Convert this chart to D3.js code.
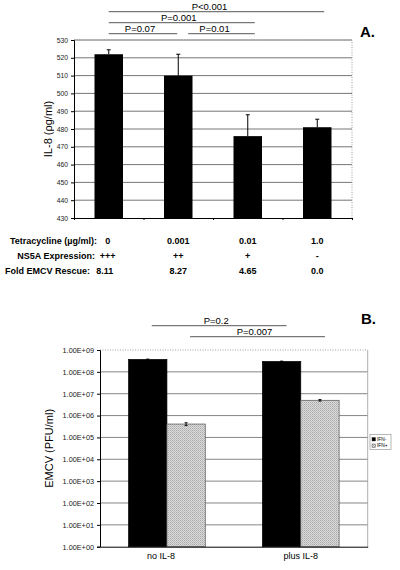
<!DOCTYPE html>
<html>
<head>
<meta charset="utf-8">
<script src="https://cdn.jsdelivr.net/npm/d3@7"></script>
<style>
  body { margin: 0; background: #fff; }
  svg { display: block; font-family: "Liberation Sans", Arial, sans-serif; }
</style>
</head>
<body>
<div class="chart"></div>
<script>
// panel A data
const doses = ['0', '0.001', '0.01', '1.0'];
const il8Values = [522, 510, 476, 481];
const il8Errors = [2.5, 12, 12, 4.5];
const ns5aLevels = ['+++', '++', '+', '-'];
const foldRescue = ['8.11', '8.27', '4.65', '0.0'];
const il8Ticks = [430, 440, 450, 460, 470, 480, 490, 500, 510, 520, 530];
const pairsA = [
  { from: 0, to: 3, label: 'P<0.001' },
  { from: 0, to: 2, label: 'P=0.001' },
  { from: 0, to: 1, label: 'P=0.07' },
  { from: 1, to: 2, label: 'P=0.01' }
];

// panel B data
const treatments = ['no IL-8', 'plus IL-8'];
const ifnGroups = ['IFN-', 'IFN+'];
const ifnMinus = [3.7e8, 3.0e8];
const ifnPlus = [4.1e5, 5.0e6];
const ifnMinusErr = [1.5e7, 1.0e7];
const ifnPlusErr = [6e4, 4e5];
const emcvTicks = [1e0, 1e1, 1e2, 1e3, 1e4, 1e5, 1e6, 1e7, 1e8, 1e9];
const pairsB = [
  { group: 'IFN-', label: 'P=0.2' },
  { group: 'IFN+', label: 'P=0.007' }
];

const w = 400;
const h = 570;
const svg = d3.select('.chart')
  .append('svg')
  .attr('width', w)
  .attr('height', h);

// ---------- panel A ----------
const a = { left: 74, right: 352, top: 40, bottom: 218 };
const xA = d3.scaleBand()
  .domain(doses)
  .range([a.left, a.right])
  .paddingInner(0.59)
  .paddingOuter(0.295);
const yA = d3.scaleLinear().domain([430, 530]).range([a.bottom, a.top]);
const cA = d => xA(d) + xA.bandwidth() / 2;

const gA = svg.append('g');

gA.append('g')
  .selectAll('line')
  .data(il8Ticks.slice(1))
  .enter()
  .append('line')
  .attr('x1', a.left)
  .attr('x2', a.right)
  .attr('y1', d => yA(d))
  .attr('y2', d => yA(d))
  .attr('stroke', '#666')
  .attr('stroke-width', 0.9);

// dotted frame top/right
gA.append('path')
  .attr('d', `M${a.left},${a.top}H${a.right}V${a.bottom}`)
  .attr('fill', 'none')
  .attr('stroke', '#888')
  .attr('stroke-width', 0.8)
  .attr('stroke-dasharray', '1,1.5');

gA.append('g')
  .selectAll('rect')
  .data(il8Values)
  .enter()
  .append('rect')
  .attr('x', (d, i) => xA(doses[i]))
  .attr('y', d => yA(d))
  .attr('width', xA.bandwidth())
  .attr('height', d => a.bottom - yA(d))
  .attr('fill', '#000');

const errA = gA.append('g').attr('stroke', '#000').attr('stroke-width', 1);
il8Values.forEach((v, i) => {
  const cx = cA(doses[i]);
  errA.append('line').attr('x1', cx).attr('x2', cx).attr('y1', yA(v)).attr('y2', yA(v + il8Errors[i]));
  errA.append('line').attr('x1', cx - 2).attr('x2', cx + 2).attr('y1', yA(v + il8Errors[i])).attr('y2', yA(v + il8Errors[i]));
});

const axisA = gA.append('g')
  .attr('transform', `translate(${a.left},0)`)
  .call(d3.axisLeft(yA).tickValues(il8Ticks).tickSize(3).tickPadding(3));
axisA.select('.domain').attr('stroke', '#000');
axisA.selectAll('text').attr('font-size', 6.8).attr('fill', '#222').attr('font-family', '"Liberation Sans", Arial, sans-serif');

const xAxisA = gA.append('g')
  .attr('transform', `translate(0,${a.bottom})`)
  .call(d3.axisBottom(d3.scaleLinear().domain([0, 4]).range([a.left, a.right])).ticks(4).tickSize(2).tickFormat(''));
xAxisA.select('.domain').attr('stroke', '#000');

gA.append('text')
  .attr('transform', `translate(52,${(a.top + a.bottom) / 2}) rotate(-90)`)
  .attr('text-anchor', 'middle')
  .attr('font-size', 11)
  .text('IL-8 (ρg/ml)');

gA.append('text')
  .attr('x', 360)
  .attr('y', 37)
  .attr('font-size', 15)
  .attr('font-weight', 'bold')
  .text('A.');

// significance brackets A
const levelsA = [11.7, 22.7, 33.7, 33.7];
pairsA.forEach((p, i) => {
  const x1 = cA(doses[p.from]) + (p.from > 0 ? 10 : 0);
  const x2 = cA(doses[p.to]) + (p.to > 1 ? 7 : -1);
  const y = levelsA[i];
  gA.append('line')
    .attr('x1', x1).attr('x2', x2)
    .attr('y1', y).attr('y2', y)
    .attr('stroke', '#444').attr('stroke-width', 0.9);
  gA.append('text')
    .attr('x', (x1 + x2) / 2 - (x2 - x1 > 150 || p.from > 0 ? 7 : 3))
    .attr('y', y - 1.6)
    .attr('text-anchor', 'middle')
    .attr('font-size', 9.5)
    .text(p.label);
});

// table under panel A
const rows = [
  { label: 'Tetracycline (µg/ml):', values: doses, y: 244, end: 97, shift: 0 },
  { label: 'NS5A Expression:', values: ns5aLevels, y: 258.5, end: 95, shift: 0 },
  { label: 'Fold EMCV Rescue:', values: foldRescue, y: 273.5, end: 90, shift: -3 }
];
const tbl = gA.append('g').attr('font-size', 9).attr('font-weight', 'bold');
rows.forEach(r => {
  tbl.append('text').attr('x', r.end).attr('y', r.y).attr('text-anchor', 'end').text(r.label);
  tbl.selectAll(null)
    .data(r.values)
    .enter()
    .append('text')
    .attr('x', (d, i) => cA(doses[i]) + (i === 0 ? r.shift - 1 : 0))
    .attr('y', r.y)
    .attr('text-anchor', 'middle')
    .text(d => d);
});

// ---------- panel B ----------
const b = { left: 100, right: 367.7, top: 350, bottom: 546.7 };
const xB = d3.scaleBand()
  .domain(treatments)
  .range([b.left, b.right])
  .paddingInner(0.427)
  .paddingOuter(0.2135);
const xSub = d3.scaleBand().domain(ifnGroups).range([0, xB.bandwidth()]);
const yB = d3.scaleLog().domain([1, 1e9]).range([b.bottom, b.top]);

const defs = svg.append('defs');
const pat = defs.append('pattern')
  .attr('id', 'dots')
  .attr('width', 2)
  .attr('height', 2)
  .attr('patternUnits', 'userSpaceOnUse');
pat.append('rect').attr('width', 2).attr('height', 2).attr('fill', '#dcdcdc');
pat.append('rect').attr('width', 1).attr('height', 1).attr('fill', '#a8a8a8');
pat.append('rect').attr('x', 1).attr('y', 1).attr('width', 1).attr('height', 1).attr('fill', '#bdbdbd');

const gB = svg.append('g');

gB.append('g')
  .selectAll('line')
  .data(emcvTicks.slice(1, -1))
  .enter()
  .append('line')
  .attr('x1', b.left)
  .attr('x2', b.right)
  .attr('y1', d => yB(d))
  .attr('y2', d => yB(d))
  .attr('stroke', '#777')
  .attr('stroke-width', 0.9);

gB.append('line')
  .attr('x1', b.left).attr('x2', b.right)
  .attr('y1', b.top).attr('y2', b.top)
  .attr('stroke', '#888').attr('stroke-width', 0.8).attr('stroke-dasharray', '1,1.5');
gB.append('line')
  .attr('x1', b.right).attr('x2', b.right)
  .attr('y1', b.top).attr('y2', b.bottom)
  .attr('stroke', '#999').attr('stroke-width', 0.8);

const barsB = [];
treatments.forEach((t, i) => {
  barsB.push({ t: t, g: 'IFN-', v: ifnMinus[i], e: ifnMinusErr[i] });
  barsB.push({ t: t, g: 'IFN+', v: ifnPlus[i], e: ifnPlusErr[i] });
});

gB.append('g')
  .selectAll('rect')
  .data(barsB)
  .enter()
  .append('rect')
  .attr('x', d => xB(d.t) + xSub(d.g))
  .attr('y', d => yB(d.v))
  .attr('width', xSub.bandwidth())
  .attr('height', d => b.bottom - yB(d.v))
  .attr('fill', d => d.g === 'IFN-' ? '#000' : 'url(#dots)')
  .attr('stroke', d => d.g === 'IFN-' ? '#000' : '#555')
  .attr('stroke-width', 0.7);

const errB = gB.append('g').attr('stroke', '#000').attr('stroke-width', 0.9);
barsB.forEach(d => {
  const cx = xB(d.t) + xSub(d.g) + xSub.bandwidth() / 2;
  const y1 = yB(d.v - d.e);
  const y2 = yB(d.v + d.e);
  errB.append('line').attr('x1', cx).attr('x2', cx).attr('y1', y1).attr('y2', y2);
  errB.append('line').attr('x1', cx - 1.5).attr('x2', cx + 1.5).attr('y1', y2).attr('y2', y2);
  errB.append('line').attr('x1', cx - 1.5).attr('x2', cx + 1.5).attr('y1', y1).attr('y2', y1);
});

const fmtE = d => {
  const e = Math.round(Math.log10(d));
  return '1.00E+' + String(e).padStart(2, '0');
};
const axisB = gB.append('g')
  .attr('transform', `translate(${b.left},0)`)
  .call(d3.axisLeft(yB).tickValues(emcvTicks).tickFormat(fmtE).tickSize(3).tickPadding(3));
axisB.select('.domain').attr('stroke', '#000');
axisB.selectAll('text').attr('font-size', 7.3).attr('fill', '#222').attr('font-family', '"Liberation Sans", Arial, sans-serif');

const xAxisB = gB.append('g')
  .attr('transform', `translate(0,${b.bottom})`)
  .call(d3.axisBottom(xB).tickSize(0).tickPadding(6));
xAxisB.select('.domain').attr('stroke', '#000');
xAxisB.selectAll('text')
  .attr('font-size', 9)
  .attr('fill', '#000')
  .attr('dx', (d, i) => i === 0 ? -6 : 0)
  .attr('font-family', '"Liberation Sans", Arial, sans-serif');

gB.append('text')
  .attr('transform', `translate(53,${(b.top + b.bottom) / 2}) rotate(-90)`)
  .attr('text-anchor', 'middle')
  .attr('font-size', 11)
  .text('EMCV (PFU/ml)');

gB.append('text')
  .attr('x', 361)
  .attr('y', 324)
  .attr('font-size', 15)
  .attr('font-weight', 'bold')
  .text('B.');

// significance brackets B
const levelsB = [325.7, 336.7];
pairsB.forEach((p, i) => {
  const x1 = xB(treatments[0]) + xSub(p.group) + xSub.bandwidth() / 2 + 4;
  const x2 = xB(treatments[1]) + xSub(p.group) + xSub.bandwidth() / 2 + 5;
  const y = levelsB[i];
  gB.append('line')
    .attr('x1', x1).attr('x2', x2)
    .attr('y1', y).attr('y2', y)
    .attr('stroke', '#444').attr('stroke-width', 0.9);
  gB.append('text')
    .attr('x', (x1 + x2) / 2 - 3)
    .attr('y', y - 1.8)
    .attr('text-anchor', 'middle')
    .attr('font-size', 9.5)
    .text(p.label);
});

// legend
const leg = gB.append('g');
leg.append('rect')
  .attr('x', 370).attr('y', 434.5)
  .attr('width', 21).attr('height', 15)
  .attr('fill', '#fff').attr('stroke', '#888').attr('stroke-width', 0.6);
ifnGroups.forEach((g, i) => {
  const y = 437.5 + i * 6.5;
  leg.append('rect')
    .attr('x', 372).attr('y', y)
    .attr('width', 3.5).attr('height', 3.5)
    .attr('fill', g === 'IFN-' ? '#000' : 'url(#dots)')
    .attr('stroke', '#333').attr('stroke-width', 0.4);
  leg.append('text')
    .attr('x', 377)
    .attr('y', y + 3.4)
    .attr('font-size', 4.8)
    .text(g);
});
</script>
</body>
</html>
